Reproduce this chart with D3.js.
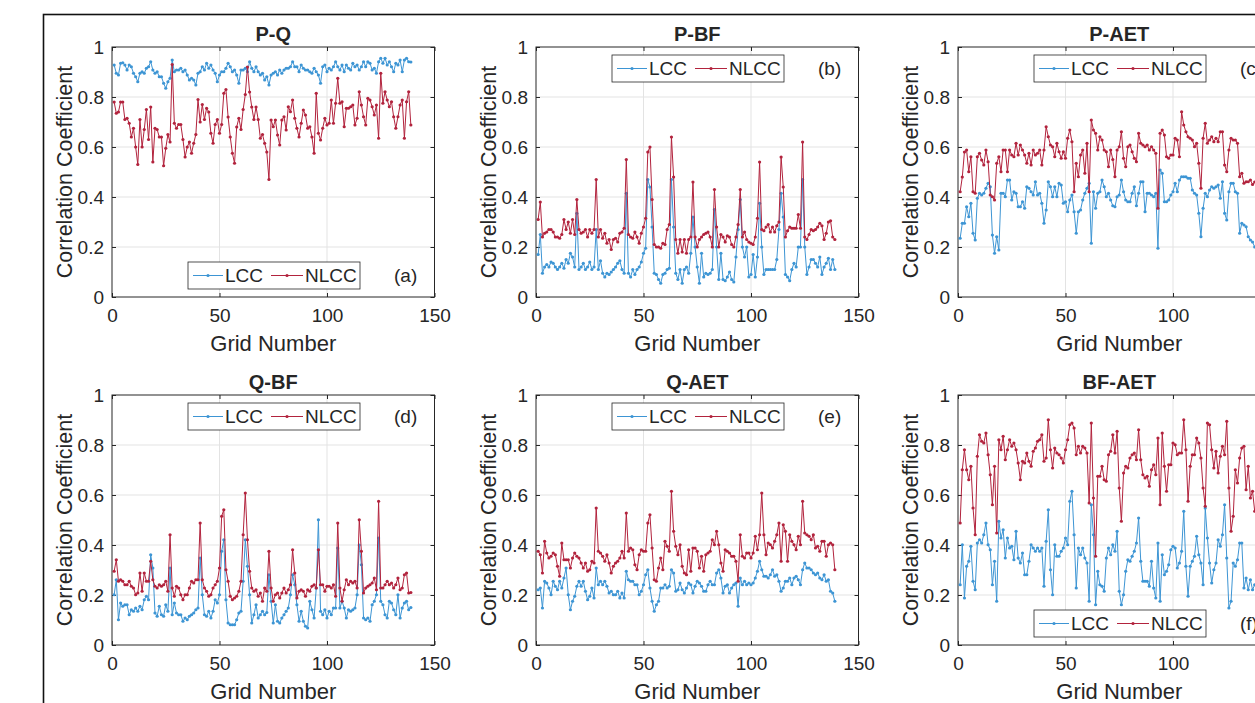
<!DOCTYPE html>
<html>
<head>
<meta charset="utf-8">
<script src="https://cdn.jsdelivr.net/npm/d3@7"></script>
<style>
  body { margin: 0; background: #fff; }
  svg { display: block; }
  text { font-family: "Liberation Sans", Arial, sans-serif; fill: #262626; }
</style>
</head>
<body>
<svg id="fig" width="1255" height="703"></svg>
<script>
// grid numbers and tick labels
var gridNumbers = d3.range(1, 140);
var xTicks = [0, 50, 100, 150];
var yTicks = [0, 0.2, 0.4, 0.6, 0.8, 1];
var yTickLabels = ["0", "0.2", "0.4", "0.6", "0.8", "1"];
var seriesNames = ["LCC", "NLCC"];
var panelTitles = ["P-Q", "P-BF", "P-AET", "Q-BF", "Q-AET", "BF-AET"];
var panelTags = ["(a)", "(b)", "(c)", "(d)", "(e)", "(f)"];
var legendAtBottom = [true, false, false, false, false, true];

// (a) P-Q
var pqLCC = [
  0.928,0.895,0.888,0.935,0.937,0.928,0.908,0.928,0.921,0.895,
  0.881,0.861,0.895,0.901,0.895,0.915,0.921,0.941,0.908,0.895,
  0.901,0.881,0.881,0.855,0.835,0.861,0.875,0.948,0.901,0.908,
  0.908,0.915,0.901,0.908,0.888,0.868,0.875,0.868,0.848,0.895,
  0.901,0.921,0.908,0.935,0.915,0.928,0.908,0.895,0.861,0.888,
  0.901,0.901,0.915,0.935,0.921,0.901,0.908,0.888,0.855,0.908,
  0.908,0.915,0.901,0.941,0.915,0.901,0.921,0.901,0.888,0.895,
  0.868,0.881,0.848,
  0.888,0.895,0.901,0.888,0.908,0.895,0.908,0.915,0.915,0.921,
  0.941,0.921,0.921,0.901,0.928,0.915,0.908,0.908,0.901,0.895,
  0.915,0.901,0.888,0.855,0.921,0.928,0.901,0.915,0.908,0.921,
  0.941,0.921,0.908,0.928,0.901,0.928,0.915,0.908,0.935,0.921,
  0.928,0.908,0.921,0.941,0.921,0.941,0.935,0.908,0.915,0.895,
  0.941,0.955,0.935,0.955,0.928,0.941,0.921,0.901,0.935,0.928,
  0.948,0.901,0.948,0.955,0.941,0.94
];
var pqNLCC = [
  0.78,0.735,0.74,0.78,0.78,0.71,0.715,0.695,0.64,0.675,
  0.60,0.53,0.71,0.60,0.67,0.75,0.63,0.76,0.54,0.675,
  0.67,0.64,0.64,0.525,0.595,0.65,0.62,0.93,0.695,0.675,
  0.69,0.69,0.63,0.56,0.60,0.62,0.575,0.615,0.65,0.79,
  0.70,0.77,0.71,0.755,0.74,0.655,0.615,0.69,0.71,0.655,
  0.69,0.815,0.83,0.72,0.64,0.575,0.535,0.68,0.715,0.67,
  0.75,0.81,0.92,0.82,0.76,0.71,0.76,0.71,0.635,0.65,
  0.615,0.58,0.47,
  0.708,0.681,0.708,0.648,0.608,0.708,0.721,0.668,0.761,0.741,
  0.788,0.715,0.675,0.64,0.695,0.748,0.728,0.675,0.681,0.64,
  0.575,0.815,0.655,0.628,0.675,0.715,0.688,0.695,0.788,0.695,
  0.775,0.875,0.775,0.781,0.681,0.755,0.755,0.761,0.768,0.688,
  0.715,0.821,0.768,0.721,0.688,0.795,0.788,0.761,0.728,0.768,
  0.635,0.895,0.775,0.821,0.788,0.761,0.781,0.721,0.675,0.721,
  0.768,0.788,0.635,0.781,0.821,0.688
];

// (b) P-BF
var pbfLCC = [
  0.17,0.25,0.095,0.12,0.13,0.12,0.14,0.135,0.12,0.11,
  0.12,0.135,0.115,0.15,0.135,0.175,0.16,0.12,0.335,0.11,
  0.12,0.135,0.11,0.12,0.14,0.11,0.12,0.27,0.11,0.145,
  0.095,0.08,0.095,0.09,0.10,0.11,0.12,0.135,0.145,0.11,
  0.095,0.415,0.095,0.08,0.11,0.09,0.11,0.12,0.14,0.175,
  0.195,0.47,0.44,0.28,0.095,0.09,0.07,0.055,0.09,0.095,
  0.11,0.115,0.47,0.28,0.095,0.07,0.11,0.055,0.11,0.12,
  0.095,0.175,0.32,0.2,0.12,0.055,0.175,0.08,0.095,0.09,
  0.095,0.11,0.35,0.2,0.07,0.175,0.07,0.065,0.08,0.10,
  0.07,0.06,0.16,0.27,0.39,0.2,0.16,0.2,0.08,0.09,
  0.17,0.08,0.16,0.375,0.2,0.09,0.11,0.11,0.11,0.11,
  0.11,0.15,0.27,0.415,0.32,0.09,0.08,0.065,0.11,0.135,
  0.12,0.2,0.2,0.47,0.2,0.09,0.12,0.15,0.15,0.135,
  0.12,0.16,0.09,0.12,0.135,0.155,0.11,0.15,0.11
];
var pbfNLCC = [
  0.31,0.38,0.24,0.255,0.26,0.27,0.27,0.26,0.24,0.24,
  0.235,0.25,0.31,0.27,0.30,0.255,0.31,0.25,0.39,0.27,
  0.255,0.26,0.27,0.24,0.27,0.255,0.27,0.47,0.24,0.27,
  0.235,0.255,0.215,0.23,0.19,0.23,0.235,0.22,0.255,0.26,
  0.275,0.55,0.25,0.24,0.235,0.26,0.24,0.215,0.255,0.28,
  0.315,0.58,0.60,0.39,0.21,0.20,0.20,0.195,0.215,0.21,
  0.27,0.29,0.64,0.48,0.23,0.175,0.23,0.18,0.23,0.175,
  0.23,0.24,0.46,0.24,0.2,0.23,0.24,0.25,0.255,0.26,
  0.24,0.2,0.43,0.28,0.2,0.25,0.24,0.22,0.245,0.24,
  0.21,0.2,0.24,0.29,0.43,0.24,0.26,0.23,0.22,0.215,
  0.21,0.24,0.315,0.54,0.27,0.265,0.28,0.29,0.26,0.28,
  0.26,0.285,0.30,0.56,0.44,0.24,0.265,0.28,0.275,0.275,
  0.275,0.33,0.275,0.62,0.24,0.23,0.25,0.27,0.265,0.27,
  0.28,0.295,0.285,0.23,0.255,0.30,0.305,0.24,0.23
];

// (c) P-AET
var paetLCC = [
  0.235,0.295,0.295,0.361,0.321,0.375,0.255,0.228,0.395,0.415,
  0.408,0.415,0.435,0.455,0.441,0.248,0.175,0.241,0.188,0.415,
  0.415,0.401,0.468,0.468,0.388,0.421,0.415,0.361,0.361,0.381,
  0.355,0.441,0.435,0.421,0.408,0.461,0.408,0.415,0.375,0.295,
  0.348,0.461,0.441,0.401,0.441,0.401,0.455,0.448,0.375,0.381,
  0.341,0.388,0.408,0.341,0.255,0.341,0.348,0.388,0.415,0.435,
  0.455,0.215,0.421,0.355,0.415,0.421,0.468,0.441,0.401,0.415,
  0.388,0.365,
  0.361,0.401,0.408,0.468,0.421,0.388,0.381,0.381,0.415,0.441,
  0.365,0.415,0.461,0.461,0.341,0.415,0.415,0.408,0.401,0.415,
  0.195,0.508,0.495,0.381,0.381,0.388,0.408,0.421,0.455,0.421,
  0.468,0.481,0.481,0.481,0.475,0.475,0.428,0.415,0.408,0.335,
  0.241,0.355,0.415,0.401,0.428,0.441,0.435,0.441,0.448,0.395,
  0.461,0.335,0.308,0.421,0.455,0.455,0.421,0.415,0.255,0.295,
  0.288,0.281,0.241,0.228,0.22,0.2,0.21
];
var paetNLCC = [
  0.421,0.48,0.58,0.588,0.501,0.561,0.421,0.415,0.561,0.575,
  0.548,0.528,0.588,0.541,0.408,0.401,0.388,0.535,0.561,0.501,
  0.588,0.588,0.501,0.588,0.568,0.561,0.615,0.568,0.608,0.588,
  0.568,0.535,0.575,0.528,0.588,0.568,0.575,0.588,0.528,0.588,
  0.681,0.641,0.608,0.601,0.561,0.615,0.581,0.555,0.581,0.555,
  0.635,0.668,0.621,0.421,0.535,0.481,0.568,0.588,0.495,0.615,
  0.421,0.708,0.668,0.655,0.588,0.641,0.628,0.588,0.581,0.521,
  0.588,0.55,
  0.481,0.588,0.601,0.661,0.555,0.521,0.601,0.608,0.581,0.555,
  0.541,0.655,0.615,0.608,0.601,0.608,0.588,0.601,0.588,0.575,
  0.355,0.655,0.668,0.648,0.561,0.555,0.568,0.568,0.635,0.628,
  0.561,0.741,0.688,0.661,0.641,0.635,0.628,0.601,0.615,0.535,
  0.435,0.635,0.695,0.615,0.628,0.641,0.621,0.635,0.621,0.661,
  0.661,0.528,0.501,0.588,0.635,0.628,0.628,0.615,0.481,0.495,
  0.455,0.461,0.461,0.468,0.45,0.46,0.44
];

// (d) Q-BF
var qbfLCC = [
  0.201,0.261,0.101,0.168,0.155,0.161,0.161,0.121,0.141,0.135,
  0.148,0.135,0.155,0.141,0.181,0.195,0.181,0.361,0.308,0.128,
  0.115,0.155,0.121,0.115,0.161,0.135,0.308,0.121,0.168,0.128,
  0.121,0.121,0.095,0.108,0.101,0.115,0.121,0.128,0.141,0.148,
  0.348,0.201,0.121,0.115,0.135,0.108,0.135,0.181,0.168,0.201,
  0.375,0.421,0.181,0.088,0.081,0.081,0.081,0.101,0.128,0.135,
  0.255,0.421,0.315,0.201,0.088,0.121,0.161,0.108,0.121,0.135,
  0.121,0.13,
  0.281,0.175,0.088,0.161,0.095,0.088,0.108,0.121,0.135,0.148,
  0.201,0.281,0.241,0.161,0.095,0.135,0.095,0.075,0.068,0.175,
  0.141,0.108,0.228,0.501,0.135,0.121,0.141,0.108,0.135,0.121,
  0.148,0.148,0.388,0.148,0.175,0.148,0.108,0.141,0.135,0.141,
  0.148,0.201,0.40,0.321,0.108,0.101,0.108,0.095,0.161,0.175,
  0.201,0.428,0.175,0.161,0.121,0.108,0.175,0.168,0.141,0.121,
  0.201,0.108,0.148,0.168,0.175,0.141,0.15
];
var qbfNLCC = [
  0.295,0.341,0.255,0.261,0.255,0.241,0.241,0.255,0.235,0.228,
  0.201,0.208,0.288,0.215,0.288,0.255,0.255,0.335,0.261,0.235,
  0.228,0.241,0.235,0.241,0.255,0.215,0.441,0.228,0.195,0.235,
  0.228,0.201,0.181,0.201,0.201,0.228,0.255,0.248,0.261,0.261,
  0.488,0.261,0.228,0.215,0.195,0.201,0.228,0.241,0.255,0.308,
  0.515,0.541,0.301,0.255,0.195,0.181,0.188,0.195,0.215,0.255,
  0.441,0.608,0.421,0.295,0.228,0.215,0.221,0.195,0.208,0.175,
  0.228,0.215,
  0.375,0.228,0.175,0.201,0.208,0.188,0.208,0.228,0.208,0.221,
  0.241,0.381,0.288,0.188,0.215,0.221,0.215,0.195,0.221,0.215,
  0.235,0.241,0.228,0.381,0.241,0.241,0.215,0.235,0.235,0.228,
  0.241,0.195,0.488,0.228,0.175,0.221,0.261,0.241,0.255,0.248,
  0.255,0.228,0.501,0.375,0.208,0.228,0.235,0.241,0.248,0.268,
  0.221,0.575,0.228,0.228,0.241,0.255,0.241,0.248,0.228,0.241,
  0.268,0.221,0.228,0.281,0.288,0.208,0.21
];

// (e) Q-AET
var qaetLCC = [
  0.221,0.228,0.148,0.255,0.248,0.228,0.201,0.255,0.235,0.221,
  0.255,0.228,0.268,0.308,0.201,0.141,0.175,0.195,0.235,0.255,
  0.235,0.255,0.215,0.181,0.195,0.228,0.188,0.308,0.241,0.255,
  0.241,0.255,0.235,0.208,0.215,0.201,0.201,0.215,0.188,0.208,
  0.188,0.295,0.261,0.255,0.255,0.241,0.241,0.201,0.215,0.241,
  0.281,0.301,0.228,0.175,0.135,0.161,0.175,0.228,0.228,0.241,
  0.228,0.235,0.301,0.288,0.215,0.221,0.248,0.221,0.208,0.228,
  0.248,0.241,0.208,
  0.235,0.255,0.248,0.235,0.215,0.215,0.241,0.255,0.241,0.241,
  0.288,0.301,0.268,0.208,0.235,0.241,0.208,0.228,0.241,0.248,
  0.155,0.268,0.241,0.255,0.241,0.248,0.241,0.248,0.268,0.295,
  0.335,0.301,0.275,0.275,0.268,0.281,0.301,0.275,0.281,0.255,
  0.215,0.228,0.255,0.255,0.268,0.241,0.268,0.275,0.261,0.241,
  0.301,0.328,0.308,0.308,0.301,0.288,0.281,0.288,0.268,0.261,
  0.281,0.255,0.261,0.215,0.208,0.175
];
var qaetNLCC = [
  0.375,0.361,0.288,0.415,0.368,0.348,0.355,0.368,0.361,0.315,
  0.275,0.408,0.341,0.341,0.341,0.308,0.348,0.368,0.355,0.348,
  0.328,0.308,0.328,0.295,0.301,0.335,0.328,0.548,0.375,0.368,
  0.355,0.335,0.361,0.328,0.288,0.315,0.328,0.335,0.348,0.375,
  0.348,0.528,0.375,0.388,0.381,0.321,0.301,0.361,0.381,0.375,
  0.375,0.488,0.521,0.388,0.261,0.255,0.308,0.348,0.301,0.415,
  0.395,0.375,0.615,0.455,0.395,0.361,0.401,0.315,0.288,0.281,
  0.381,0.295,0.388,
  0.388,0.375,0.308,0.355,0.295,0.361,0.368,0.375,0.421,0.401,
  0.455,0.401,0.328,0.295,0.381,0.375,0.368,0.355,0.355,0.335,
  0.255,0.441,0.355,0.348,0.368,0.368,0.348,0.368,0.435,0.381,
  0.441,0.608,0.441,0.361,0.408,0.401,0.388,0.415,0.441,0.488,
  0.335,0.481,0.455,0.335,0.441,0.415,0.401,0.381,0.435,0.401,
  0.575,0.448,0.441,0.435,0.421,0.441,0.388,0.395,0.375,0.415,
  0.415,0.355,0.401,0.408,0.401,0.301
];

// (f) BF-AET
var bfaetLCC = [
  0.241,0.401,0.188,0.315,0.335,0.395,0.255,0.221,0.408,0.421,
  0.408,0.441,0.488,0.401,0.381,0.241,0.335,0.175,0.495,0.428,
  0.461,0.348,0.428,0.388,0.395,0.341,0.455,0.348,0.328,0.368,
  0.281,0.281,0.335,0.401,0.388,0.375,0.388,0.375,0.388,0.235,
  0.415,0.541,0.301,0.201,0.401,0.355,0.355,0.375,0.388,0.428,
  0.401,0.575,0.615,0.441,0.228,0.388,0.361,0.388,0.348,0.328,
  0.175,0.561,0.441,0.161,0.295,0.241,0.235,0.215,0.348,0.388,
  0.361,0.401,
  0.375,0.455,0.215,0.161,0.201,0.295,0.341,0.335,0.355,0.375,
  0.408,0.508,0.335,0.255,0.255,0.255,0.235,0.335,0.228,0.188,
  0.408,0.175,0.361,0.281,0.295,0.321,0.381,0.395,0.388,0.308,
  0.328,0.375,0.535,0.315,0.195,0.315,0.335,0.355,0.435,0.361,
  0.328,0.241,0.548,0.428,0.328,0.248,0.301,0.328,0.421,0.395,
  0.441,0.561,0.348,0.148,0.175,0.328,0.315,0.341,0.408,0.408,
  0.228,0.268,0.221,0.261,0.221,0.241,0.23
];
var bfaetNLCC = [
  0.488,0.701,0.781,0.701,0.661,0.715,0.548,0.441,0.755,0.841,
  0.815,0.808,0.848,0.761,0.681,0.561,0.715,0.448,0.821,0.781,
  0.835,0.741,0.781,0.821,0.795,0.808,0.781,0.728,0.661,0.735,
  0.728,0.768,0.735,0.715,0.775,0.788,0.815,0.821,0.841,0.735,
  0.748,0.901,0.781,0.708,0.788,0.768,0.761,0.748,0.728,0.781,
  0.821,0.881,0.888,0.868,0.761,0.795,0.768,0.795,0.788,0.768,
  0.568,0.888,0.588,0.355,0.675,0.675,0.715,0.661,0.655,0.761,
  0.775,0.841,
  0.768,0.855,0.628,0.495,0.688,0.715,0.708,0.748,0.761,0.768,
  0.741,0.861,0.741,0.681,0.668,0.675,0.635,0.701,0.721,0.681,
  0.828,0.561,0.848,0.715,0.615,0.721,0.721,0.808,0.801,0.761,
  0.768,0.768,0.901,0.781,0.575,0.715,0.761,0.761,0.828,0.808,
  0.748,0.628,0.555,0.888,0.881,0.781,0.708,0.775,0.688,0.755,
  0.795,0.761,0.895,0.628,0.455,0.515,0.701,0.648,0.748,0.788,
  0.795,0.621,0.715,0.588,0.615,0.535,0.541
];

var panelSeries = [
  [pqLCC, pqNLCC], [pbfLCC, pbfNLCC], [paetLCC, paetNLCC],
  [qbfLCC, qbfNLCC], [qaetLCC, qaetNLCC], [bfaetLCC, bfaetNLCC]
];

// layout
var colLeft = [112, 536, 958],
    rowTop = [47, 395],
    plotW = 322.5,
    plotH = 250;
var colors = ["#3d95d4", "#b2233d"];
var axisColor = "#262626";
var fontTick = 19, fontLabel = 21.5, fontTitle = 20;

var svg = d3.select("#fig");

svg.append("rect")
    .attr("width", 1255).attr("height", 703)
    .attr("fill", "#fff");

// outer frame, runs off the right and bottom edge
svg.append("rect")
    .attr("x", 43.5).attr("y", 14.5)
    .attr("width", 1300).attr("height", 800)
    .attr("fill", "none")
    .attr("stroke", "#111")
    .attr("stroke-width", 1.6);

panelSeries.forEach(function(series, i) {
  var left = colLeft[i % 3],
      top = rowTop[Math.floor(i / 3)],
      bottom = top + plotH;

  var x = d3.scaleLinear().domain([0, 150]).range([left, left + plotW]);
  var y = d3.scaleLinear().domain([0, 1]).range([bottom, top]);

  var g = svg.append("g");

  // grid
  g.append("g").selectAll("line")
      .data(xTicks.slice(1, -1))
      .enter().append("line")
      .attr("x1", function(d) { return x(d); })
      .attr("x2", function(d) { return x(d); })
      .attr("y1", top).attr("y2", bottom)
      .attr("stroke", "#e3e3e3").attr("stroke-width", 1);
  g.append("g").selectAll("line")
      .data(yTicks.slice(1, -1))
      .enter().append("line")
      .attr("x1", left).attr("x2", left + plotW)
      .attr("y1", function(d) { return y(d); })
      .attr("y2", function(d) { return y(d); })
      .attr("stroke", "#e3e3e3").attr("stroke-width", 1);

  // axes, ticks point inward like matlab
  var xAxis = d3.axisBottom(x).tickValues(xTicks)
      .tickSizeInner(-4).tickSizeOuter(0).tickPadding(12);
  var yAxis = d3.axisLeft(y).tickValues(yTicks)
      .tickSizeInner(-4).tickSizeOuter(0).tickPadding(8)
      .tickFormat(function(d, j) { return yTickLabels[j]; });

  g.append("g")
      .attr("transform", "translate(0," + bottom + ")")
      .call(xAxis);
  g.append("g")
      .attr("transform", "translate(" + left + ",0)")
      .call(yAxis);
  g.append("g")
      .attr("transform", "translate(0," + top + ")")
      .call(d3.axisTop(x).tickValues(xTicks).tickSizeInner(-4).tickSizeOuter(0).tickFormat(""));
  g.append("g")
      .attr("transform", "translate(" + (left + plotW) + ",0)")
      .call(d3.axisRight(y).tickValues(yTicks).tickSizeInner(-4).tickSizeOuter(0).tickFormat(""));

  g.selectAll(".domain").remove();
  g.selectAll(".tick line").attr("stroke", axisColor);
  g.selectAll(".tick text")
      .attr("fill", axisColor)
      .style("font-size", fontTick + "px")
      .style("font-family", "'Liberation Sans', Arial, sans-serif");

  g.append("rect")
      .attr("x", left).attr("y", top)
      .attr("width", plotW).attr("height", plotH)
      .attr("fill", "none")
      .attr("stroke", axisColor).attr("stroke-width", 1);

  // the two series, NLCC drawn over LCC
  var line = d3.line()
      .x(function(d, j) { return x(gridNumbers[j]); })
      .y(function(d) { return y(d); });

  series.forEach(function(vals, k) {
    g.append("path")
        .datum(vals)
        .attr("fill", "none")
        .attr("stroke", colors[k])
        .attr("stroke-width", 1)
        .attr("d", line);
    g.append("g").selectAll("circle")
        .data(vals)
        .enter().append("circle")
        .attr("cx", function(d, j) { return x(gridNumbers[j]); })
        .attr("cy", function(d) { return y(d); })
        .attr("r", 1.6)
        .attr("fill", colors[k]);
  });

  // titles and labels
  g.append("text")
      .attr("x", left + plotW / 2).attr("y", top - 6)
      .attr("text-anchor", "middle")
      .style("font-size", fontTitle + "px")
      .style("font-weight", "bold")
      .text(panelTitles[i]);

  g.append("text")
      .attr("x", left + plotW / 2).attr("y", bottom + 54)
      .attr("text-anchor", "middle")
      .style("font-size", (fontLabel + 0.5) + "px")
      .text("Grid Number");

  g.append("text")
      .attr("transform", "translate(" + (left - 40) + "," + (top + plotH / 2) + ") rotate(-90)")
      .attr("text-anchor", "middle")
      .style("font-size", fontLabel + "px")
      .text("Correlation Coefficient");

  // legend
  var lx = left + 76,
      ly = legendAtBottom[i] ? top + 215 : top + 8,
      lh = 27;
  var leg = g.append("g");
  leg.append("rect")
      .attr("x", lx).attr("y", ly)
      .attr("width", 172).attr("height", lh)
      .attr("fill", "#fff")
      .attr("stroke", axisColor).attr("stroke-width", 0.8);
  var itemLine = [[5, 35], [83, 115]], itemText = [37, 117];
  seriesNames.forEach(function(name, k) {
    var cy = ly + lh / 2;
    leg.append("line")
        .attr("x1", lx + itemLine[k][0]).attr("x2", lx + itemLine[k][1])
        .attr("y1", cy).attr("y2", cy)
        .attr("stroke", colors[k]).attr("stroke-width", 1);
    leg.append("circle")
        .attr("cx", lx + (itemLine[k][0] + itemLine[k][1]) / 2).attr("cy", cy)
        .attr("r", 1.6).attr("fill", colors[k]);
    leg.append("text")
        .attr("x", lx + itemText[k]).attr("y", cy)
        .attr("dy", "0.36em")
        .style("font-size", fontTick + "px")
        .text(name);
  });

  g.append("text")
      .attr("x", left + 282).attr("y", ly + lh / 2)
      .attr("dy", "0.36em")
      .style("font-size", fontTick + "px")
      .text(panelTags[i]);
});
</script>
</body>
</html>
